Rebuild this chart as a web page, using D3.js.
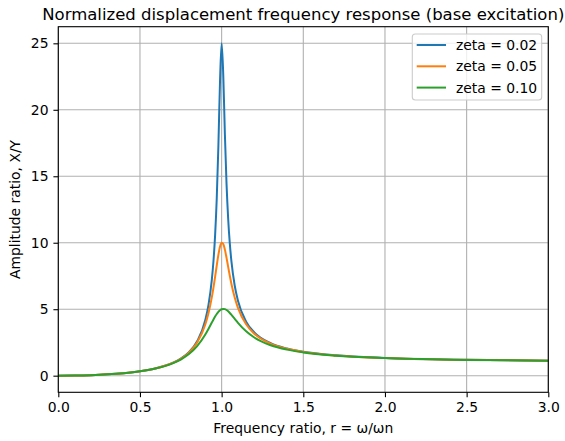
<!DOCTYPE html>
<html>
<head>
<meta charset="utf-8">
<script src="https://cdn.jsdelivr.net/npm/d3@7"></script>
<style>
  body { margin: 0; background: #fff; }
  text { font-family: "DejaVu Sans", sans-serif; fill: #000; }
</style>
</head>
<body>
<script>
// frequency ratio samples
var ratio = [0, 0.1, 0.2, 0.3, 0.4, 0.5, 0.6, 0.7, 0.75, 0.8, 0.85, 0.9, 0.92, 0.94, 0.95, 0.96, 0.97, 0.98, 0.99,
             1.0, 1.01, 1.02, 1.03, 1.04, 1.05, 1.06, 1.08, 1.1, 1.15, 1.2, 1.3, 1.4, 1.5, 1.7, 2.0, 2.5, 3.0];

var zeta02 = [0, 0.0101, 0.0417, 0.0989, 0.1905, 0.3332, 0.5621, 0.9593, 1.2827, 1.7708, 2.5843, 4.1887, 5.3587, 7.2236, 8.6248, 10.556, 13.309, 17.235, 22.116,
              25.0, 22.608, 18.119, 14.429, 11.808, 9.9531, 8.5987, 6.7846, 5.6394, 4.0597, 3.2534, 2.4423, 2.0382, 1.7979, 1.5281, 1.3329, 1.1903, 1.1249];
var zeta05 = [0, 0.0101, 0.0417, 0.0988, 0.1903, 0.3326, 0.5600, 0.9519, 1.2672, 1.7355, 2.4894, 3.8528, 4.7273, 5.9057, 6.6297, 7.4353, 8.2834, 9.0861, 9.7059,
              10.0, 9.9058, 9.4833, 8.8660, 8.1820, 7.5133, 6.9005, 5.8797, 5.1040, 3.8626, 3.1574, 2.4069, 2.0203, 1.7872, 1.5230, 1.3304, 1.1891, 1.1242];
var zeta10 = [0, 0.0101, 0.0416, 0.0987, 0.1896, 0.3304, 0.5529, 0.9265, 1.2162, 1.6246, 2.2201, 3.0948, 3.5313, 3.9961, 4.2260, 4.4438, 4.6395, 4.8030, 4.9251,
              5.0, 5.0251, 5.0029, 4.9387, 4.8407, 4.7180, 4.5786, 4.2778, 3.9784, 3.3386, 2.8731, 2.2920, 1.9600, 1.7503, 1.5049, 1.3216, 1.1851, 1.1219];

var seriesNames = ["zeta = 0.02", "zeta = 0.05", "zeta = 0.10"];
var seriesColors = ["#1f77b4", "#ff7f0e", "#2ca02c"];
var xTicks = [0, 0.5, 1.0, 1.5, 2.0, 2.5, 3.0];
var yTicks = [0, 5, 10, 15, 20, 25];

const w = 565;
const h = 441;
const margin = {left: 58.3, right: 16.7, top: 26.7, bottom: 48.7};
const fs = "13.9px";

const svg = d3.select("body")
    .append("svg")
    .attr("width", w)
    .attr("height", h);

const x = d3.scaleLinear().domain([0, 3]).range([margin.left, w - margin.right]);
const y = d3.scaleLinear().domain([-1.25, 26.25]).range([h - margin.bottom, margin.top]);

// grid
svg.append("g")
    .selectAll("line")
    .data(xTicks)
    .enter()
    .append("line")
    .attr("x1", d => x(d)).attr("x2", d => x(d))
    .attr("y1", margin.top).attr("y2", h - margin.bottom)
    .style("stroke", "#b0b0b0").style("stroke-width", 1.1);
svg.append("g")
    .selectAll("line")
    .data(yTicks)
    .enter()
    .append("line")
    .attr("x1", margin.left).attr("x2", w - margin.right)
    .attr("y1", d => y(d)).attr("y2", d => y(d))
    .style("stroke", "#b0b0b0").style("stroke-width", 1.1);

// curves
var allSeries = [zeta02, zeta05, zeta10];
const line = d3.line()
    .x((d, i) => x(ratio[i]))
    .y(d => y(d))
    .curve(d3.curveMonotoneX);

svg.append("clipPath").attr("id", "clip")
    .append("rect")
    .attr("x", margin.left).attr("y", margin.top)
    .attr("width", w - margin.left - margin.right)
    .attr("height", h - margin.top - margin.bottom);

svg.append("g")
    .attr("clip-path", "url(#clip)")
    .selectAll("path")
    .data(allSeries)
    .enter()
    .append("path")
    .attr("d", d => line(d))
    .style("fill", "none")
    .style("stroke", (d, i) => seriesColors[i])
    .style("stroke-width", 2)
    .style("stroke-linejoin", "round");

// axes
const xAxis = d3.axisBottom(x).tickValues(xTicks).tickFormat(d3.format(".1f")).tickSizeOuter(0).tickSize(4.9).tickPadding(4.9);
const yAxis = d3.axisLeft(y).tickValues(yTicks).tickFormat(d3.format("d")).tickSizeOuter(0).tickSize(4.9).tickPadding(4.9);

svg.append("g")
    .attr("transform", "translate(0," + (h - margin.bottom) + ")")
    .call(xAxis)
    .call(g => g.select(".domain").remove())
    .selectAll("text").style("font-size", fs);
svg.append("g")
    .attr("transform", "translate(" + margin.left + ",0)")
    .call(yAxis)
    .call(g => g.select(".domain").remove())
    .selectAll("text").style("font-size", fs);

svg.selectAll(".tick line").style("stroke", "#000").style("stroke-width", 1.1);

// frame
svg.append("rect")
    .attr("x", margin.left).attr("y", margin.top)
    .attr("width", w - margin.left - margin.right)
    .attr("height", h - margin.top - margin.bottom)
    .style("fill", "none").style("stroke", "#000").style("stroke-width", 1.1);

// title and labels
svg.append("text")
    .attr("x", (margin.left + w - margin.right) / 2)
    .attr("y", 19.5)
    .attr("text-anchor", "middle")
    .style("font-size", "16.5px")
    .text("Normalized displacement frequency response (base excitation)");

svg.append("text")
    .attr("x", (margin.left + w - margin.right) / 2)
    .attr("y", 433)
    .attr("text-anchor", "middle")
    .style("font-size", fs)
    .text("Frequency ratio, r = ω/ωn");

svg.append("text")
    .attr("transform", "translate(20," + ((margin.top + h - margin.bottom) / 2) + ") rotate(-90)")
    .attr("text-anchor", "middle")
    .style("font-size", fs)
    .text("Amplitude ratio, X/Y");

// legend
const legend = svg.append("g");
legend.append("rect")
    .attr("x", 412.3).attr("y", 34)
    .attr("width", 129.4).attr("height", 66)
    .attr("rx", 3)
    .style("fill", "#fff").style("fill-opacity", 0.8)
    .style("stroke", "#cccccc").style("stroke-width", 1.1);

const items = legend.selectAll("g.item")
    .data(seriesNames)
    .enter()
    .append("g")
    .attr("transform", (d, i) => "translate(0," + (45 + i * 21.3) + ")");
items.append("line")
    .attr("x1", 416.7).attr("x2", 446)
    .attr("y1", 0).attr("y2", 0)
    .style("stroke", (d, i) => seriesColors[i])
    .style("stroke-width", 2);
items.append("text")
    .attr("x", 456)
    .attr("y", 5)
    .style("font-size", fs)
    .text(d => d);
</script>
</body>
</html>
